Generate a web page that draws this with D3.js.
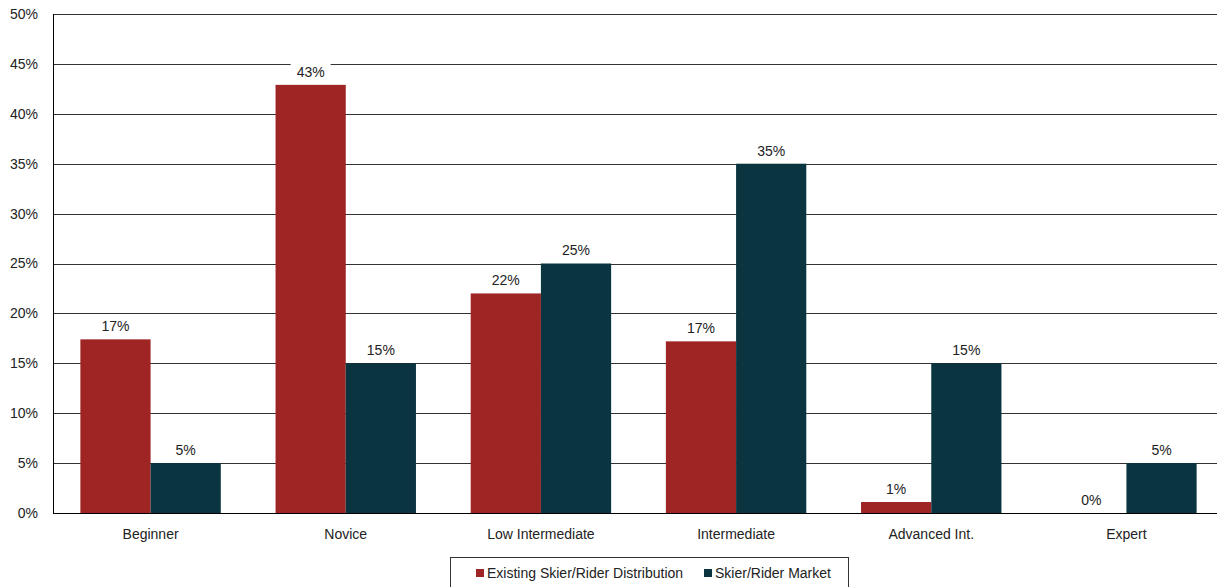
<!DOCTYPE html>
<html>
<head>
<meta charset="utf-8">
<script src="https://cdn.jsdelivr.net/npm/d3@7"></script>
<style>
  body { margin: 0; background: #fff; overflow: hidden; }
  text { font-family: 'Liberation Sans Narrow', 'Arial Narrow', 'Liberation Sans', sans-serif; fill: #222; }
</style>
</head>
<body>
<svg width="1217" height="587"></svg>
<script>
const categories = ['Beginner', 'Novice', 'Low Intermediate', 'Intermediate', 'Advanced Int.', 'Expert'];
const existing = [17.4, 42.9, 22.0, 17.2, 1.1, 0];
const existingLabels = ['17%', '43%', '22%', '17%', '1%', '0%'];
const market = [5, 15, 25, 35, 15, 5];
const marketLabels = ['5%', '15%', '25%', '35%', '15%', '5%'];
const seriesNames = ['Existing Skier/Rider Distribution', 'Skier/Rider Market'];
const yTicks = [0, 5, 10, 15, 20, 25, 30, 35, 40, 45, 50];

const colors = ['#9e2523', '#0b3441'];

const svg = d3.select('svg');
// the plot area runs slightly past the right edge of the picture
const margin = { top: 14, right: -7, bottom: 74, left: 53 };
const width = +svg.attr('width');
const height = +svg.attr('height');
const innerWidth = width - margin.left - margin.right;
const innerHeight = height - margin.top - margin.bottom;

const g = svg.append('g').attr('transform', `translate(${margin.left},${margin.top})`);

const x = d3.scaleBand().domain(categories).range([0, innerWidth]).paddingInner(0).paddingOuter(0);
const sub = d3.scaleBand().domain([0, 1]).range([0, x.bandwidth()]).paddingInner(0).paddingOuter(0.39);
const y = d3.scaleLinear().domain([0, 50]).range([innerHeight, 0]);

// gridlines
g.selectAll('.grid').data(yTicks).enter().append('line')
  .attr('x1', 0).attr('x2', innerWidth)
  .attr('y1', d => Math.round(y(d)) + 0.5).attr('y2', d => Math.round(y(d)) + 0.5)
  .attr('stroke', '#333').attr('stroke-width', 1);

// y tick labels
g.selectAll('.ytick').data(yTicks).enter().append('text')
  .attr('x', -15).attr('y', d => y(d))
  .attr('dy', '0.35em').attr('text-anchor', 'end')
  .attr('font-size', 14)
  .text(d => d + '%');

const data = categories.map((c, i) => ({ c, vals: [existing[i], market[i]], labs: [existingLabels[i], marketLabels[i]] }));

const groups = g.selectAll('.grp').data(data).enter().append('g')
  .attr('transform', d => `translate(${x(d.c)},0)`);

groups.selectAll('rect').data(d => d.vals.map((v, k) => ({ v, k }))).enter().append('rect')
  .attr('x', d => sub(d.k)).attr('width', sub.bandwidth())
  .attr('y', d => y(d.v)).attr('height', d => innerHeight - y(d.v))
  .attr('fill', d => colors[d.k]);

// value labels with white background
const lab = groups.selectAll('.lab').data(d => d.vals.map((v, k) => ({ v, k, t: d.labs[k] }))).enter().append('g')
  .attr('transform', d => `translate(${sub(d.k) + sub.bandwidth() / 2},${y(d.v) - 13})`);
lab.append('rect')
  .attr('x', d => d.t.length > 2 ? -20 : -15).attr('y', -12)
  .attr('width', d => d.t.length > 2 ? 40 : 30).attr('height', 24)
  .attr('fill', '#fff');
lab.append('text')
  .attr('text-anchor', 'middle').attr('dy', '0.35em')
  .attr('font-size', 14)
  .text(d => d.t);

// axes lines
g.append('line').attr('x1', 0.5).attr('x2', 0.5).attr('y1', 0).attr('y2', innerHeight)
  .attr('stroke', '#000');
g.append('line').attr('x1', 0).attr('x2', innerWidth)
  .attr('y1', innerHeight + 0.5).attr('y2', innerHeight + 0.5).attr('stroke', '#000');

// category labels
g.selectAll('.xlab').data(categories).enter().append('text')
  .attr('x', d => x(d) + x.bandwidth() / 2).attr('y', innerHeight + 21)
  .attr('dy', '0.35em').attr('text-anchor', 'middle')
  .attr('font-size', 14)
  .text(d => d);

// legend
const leg = svg.append('g').attr('transform', 'translate(450,557)');
leg.append('rect').attr('x', 0.5).attr('y', 0.5).attr('width', 398).attr('height', 40)
  .attr('fill', '#fff').attr('stroke', '#333');
const legX = [26, 254];
seriesNames.forEach((n, i) => {
  leg.append('rect').attr('x', legX[i]).attr('y', 12).attr('width', 8).attr('height', 8).attr('fill', colors[i]);
  leg.append('text').attr('x', legX[i] + 11).attr('y', 16).attr('dy', '0.35em')
    .attr('font-size', 14).text(n);
});
</script>
</body>
</html>
